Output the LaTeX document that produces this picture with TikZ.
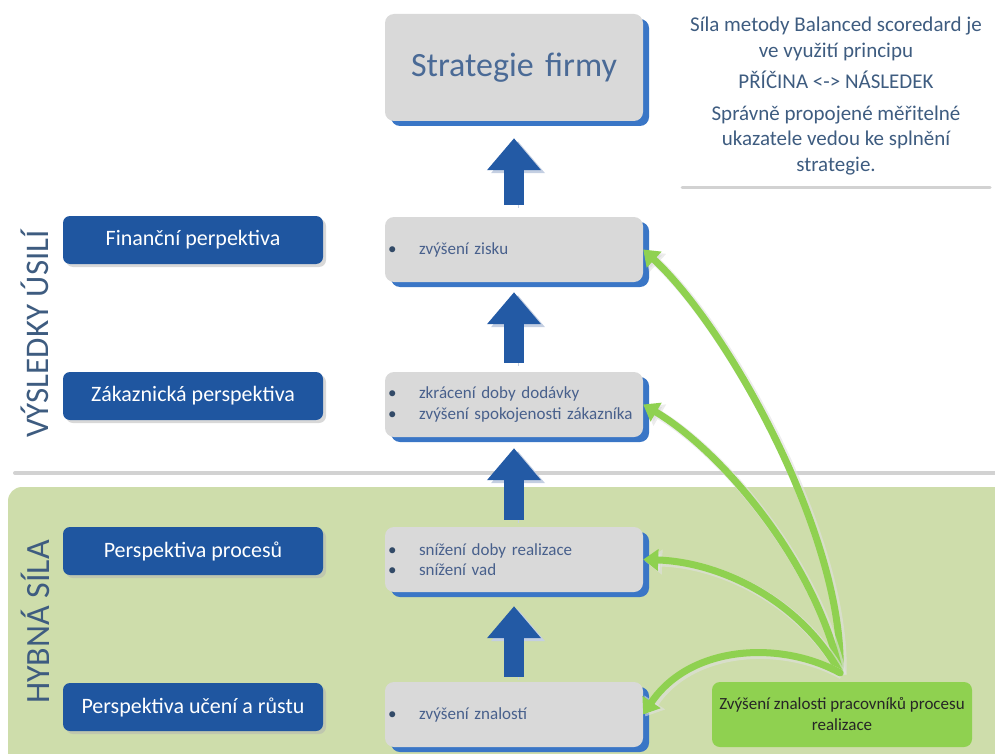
\documentclass[tikz,border=0pt]{standalone}
\usepackage{fontspec}
\setmainfont{Carlito}
\usetikzlibrary{arrows.meta,shadows,calc}

\definecolor{darkblue}{RGB}{31,86,160}
\definecolor{shblue}{RGB}{58,118,198}
\definecolor{boxgray}{RGB}{217,217,217}
\definecolor{arrowblue}{RGB}{35,90,165}
\definecolor{arrowshade}{RGB}{196,207,226}
\definecolor{panelgreen}{RGB}{206,221,171}
\definecolor{leafgreen}{RGB}{143,209,80}
\definecolor{slate}{RGB}{62,92,128}
\definecolor{itemtext}{RGB}{72,96,140}
\definecolor{titletext}{RGB}{74,106,150}
\definecolor{rulegray}{RGB}{210,210,210}

\tikzset{
  persp/.style={fill=darkblue, rounded corners=7pt, minimum width=260pt,
    minimum height=48pt, text=white, inner sep=0pt,
    font=\fontsize{22}{26}\selectfont,
    drop shadow={shadow xshift=3pt, shadow yshift=-3pt, fill=black!30, opacity=0.5}},
  goal/.style={fill=boxgray, rounded corners=9pt, minimum width=258pt,
    minimum height=65pt, text width=252pt, inner xsep=3pt, inner ysep=0pt,
    align=left, text=itemtext, font=\fontsize{17}{20.5}\selectfont,
    drop shadow={shadow xshift=6pt, shadow yshift=-5pt, fill=shblue, opacity=1}},
  uparrow/.style={draw=arrowblue, line width=20pt,
    -{Triangle[width=52pt,length=32pt]},
    preaction={draw=arrowshade, transform canvas={xshift=4pt,yshift=-3pt}}},
  cause/.style={draw=leafgreen, line width=7pt, line cap=round,
    -{Triangle[width=21pt,length=15pt]},
    preaction={draw=white!88!black, draw opacity=0.6, line width=9pt,
      -{Triangle[width=24pt,length=17pt]},
      transform canvas={xshift=2pt,yshift=-2pt}}},
  sidelabel/.style={rotate=90, text=slate, inner sep=0pt},
}

\newcommand{\itm}[1]{\makebox[31pt][l]{\textcolor{slate!80!black}{\textbullet}}#1}

\begin{document}
\begin{tikzpicture}[x=1pt,y=-1pt]
  \useasboundingbox (0,0) rectangle (995,754);
  \clip (0,0) rectangle (995,754);

  % lower band: driving force
  \fill[panelgreen, rounded corners=14pt] (8,487) rectangle (1020,780);
  % bottom rule of the upper band and of the note
  \draw[rulegray, line width=4pt, line cap=round] (15,473) -- (1000,473);
  \draw[rulegray, line width=3pt, line cap=round] (682,188) -- (990,188);

  % explanatory note
  \node[text=slate, align=center, font=\fontsize{21}{25.5}\selectfont] (note) at (836,96)
    {Síla metody Balanced scoredard je\\ ve využití principu\\[6pt]
     PŘÍČINA <-> NÁSLEDEK\\[6pt]
     Správně propojené měřitelné\\ ukazatele vedou ke splnění\\ strategie.};

  % band labels
  \node[sidelabel, font=\fontsize{33}{38}\selectfont] (results) at (35,334) {VÝSLEDKY ÚSILÍ};
  \node[sidelabel, font=\fontsize{34}{40}\selectfont] (drive) at (35,622) {HYBNÁ SÍLA};

  % perspectives
  \node[persp] (p1) at (193,240) {Finanční perpektiva};
  \node[persp] (p2) at (193,396) {Zákaznická perspektiva};
  \node[persp] (p3) at (193,551) {Perspektiva procesů};
  \node[persp] (p4) at (193,707) {Perspektiva učení a růstu};

  % goals
  \node[goal, minimum height=107pt, align=center, text=titletext,
        font=\fontsize{34}{40}\selectfont] (strat) at (514,67.5) {Strategie firmy};
  \node[goal] (g1) at (514,249.5) {\itm{zvýšení zisku}};
  \node[goal] (g2) at (514,404.5) {\itm{zkrácení doby dodávky}\\ \itm{zvýšení spokojenosti zákazníka}};
  \node[goal] (g3) at (514,559.5) {\itm{snížení doby realizace}\\ \itm{snížení vad}};
  \node[goal] (g4) at (514,714.5) {\itm{zvýšení znalostí}};

  % cause
  \node[fill=leafgreen, rounded corners=8pt, minimum width=260pt, minimum height=65pt,
        align=center, text=black!85, font=\fontsize{17}{21}\selectfont] (gz) at (842,714.5)
    {Zvýšení znalosti pracovníků procesu\\ realizace};
  \coordinate (src) at ($(gz.north)+(-2,-9)$);

  % upward flow between perspectives
  \draw[uparrow, shorten <=12pt, shorten >=17pt] (g1) -- (strat);
  \draw[uparrow, shorten <=9pt, shorten >=10pt] (g2) -- (g1);
  \draw[uparrow, shorten <=7pt, shorten >=11pt] (g3) -- (g2);
  \draw[uparrow, shorten <=5pt, shorten >=14pt] (g4) -- (g3);

  % cause-effect links
  \draw[cause] (src) .. controls (845,540) and (730,330) .. (g1.east);
  \draw[cause] (src) .. controls (815,560) and (720,450) .. (g2.east);
  \draw[cause] (src) .. controls (800,600) and (720,562) .. (g3.east);
  \draw[cause] (src) .. controls (780,640) and (690,645) .. (g4.east);
\end{tikzpicture}
\end{document}
